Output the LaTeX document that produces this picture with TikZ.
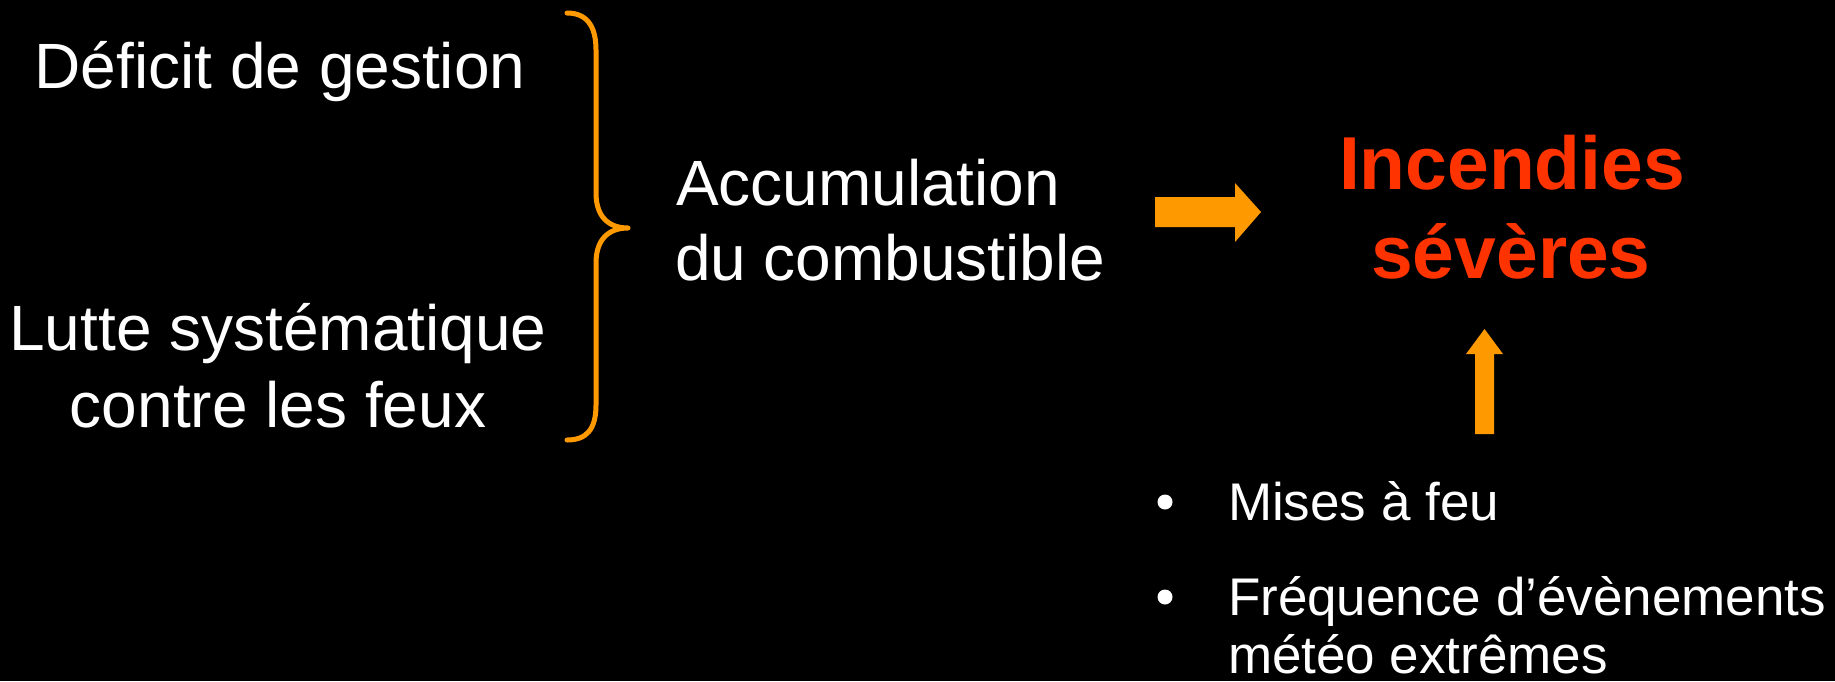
\documentclass[tikz,border=0pt]{standalone}
\usepackage{fontspec}
\setmainfont{Liberation Sans}
\definecolor{braceorange}{HTML}{FF9900}
\definecolor{firered}{HTML}{FF3300}
\begin{document}
\begin{tikzpicture}[x=1pt,y=-1pt,
  txt/.style={inner sep=0pt,outer sep=0pt,text=white,font=\fontsize{64}{77}\selectfont},
  big/.style={inner sep=0pt,outer sep=0pt,text=firered,font=\fontsize{75}{88}\selectfont\bfseries},
  small/.style={inner sep=0pt,outer sep=0pt,text=white,font=\fontsize{53}{62}\selectfont},
  blockarrow/.style={fill=braceorange,draw=none},
  bracestyle/.style={draw=braceorange,line width=5pt,line cap=round,line join=round}]
\fill[black] (0,0) rectangle (1835,681);
\useasboundingbox (0,0) rectangle (1835,681);
% left texts
\node[txt,anchor=base] (deficit) at (280,88) {Déficit de gestion};
\node[txt,anchor=base] (lutte1) at (278,350) {Lutte systématique};
\node[txt,anchor=base] (lutte2) at (278,427) {contre les feux};
% brace
\draw[bracestyle] (567,13) .. controls (586,13) and (596,25) .. (596,50)
  -- (596,193) .. controls (596,216) and (608,228) .. (628,228)
  .. controls (608,228) and (596,240) .. (596,263)
  -- (596,405) .. controls (596,430) and (586,440) .. (567,440);
% middle text
\node[txt,anchor=base west] (accu1) at (676,205) {Accumulation};
\node[txt,anchor=base west] (accu2) at (675,280) {du combustible};
% right arrow
\fill[blockarrow] (1155,197) -- (1235,197) -- (1235,183) -- (1261,212)
  -- (1235,242) -- (1235,227) -- (1155,227) -- cycle;
% title
\node[big,anchor=base] (inc1) at (1512,189) {Incendies};
\node[big,anchor=base] (inc2) at (1511,278) {sévères};
% up arrow
\fill[blockarrow] (1475,434) -- (1475,354) -- (1466,354) -- (1484.5,329)
  -- (1503,354) -- (1494,354) -- (1494,434) -- cycle;
% bullets
\fill[white] (1165,502) circle (7.5);
\fill[white] (1165,597) circle (7.5);
\node[small,anchor=base west] (b1) at (1228,520) {Mises à feu};
\node[small,anchor=base west] (b2) at (1228,615) {Fréquence d’évènements};
\node[small,anchor=base west] (b3) at (1228,673) {météo extrêmes};
\end{tikzpicture}
\end{document}
